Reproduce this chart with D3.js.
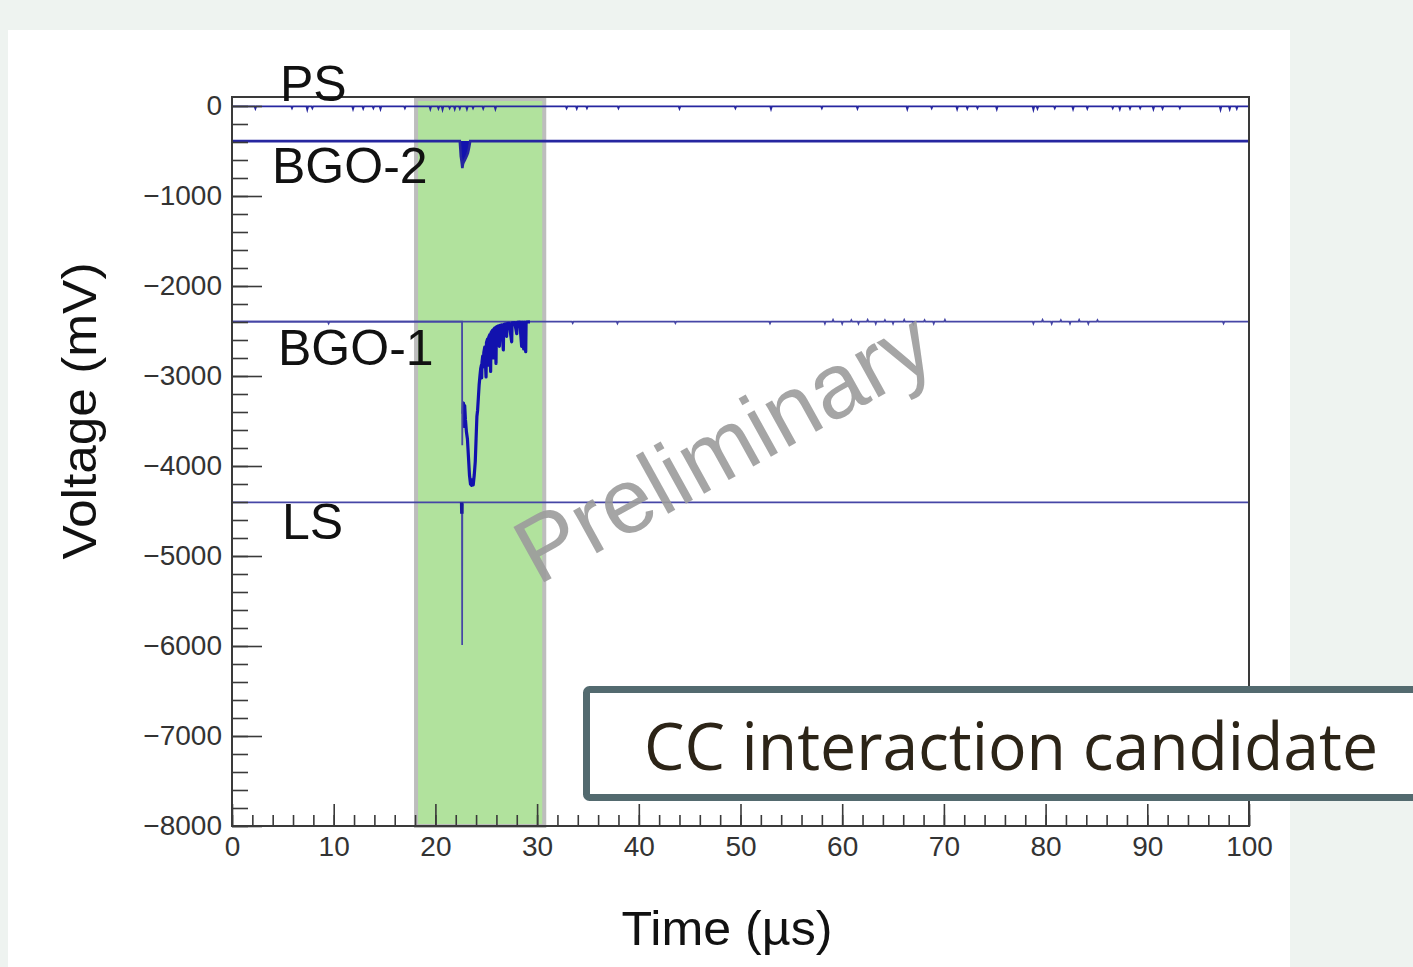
<!DOCTYPE html>
<html>
<head>
<meta charset="utf-8">
<script src="https://cdn.jsdelivr.net/npm/d3@7"></script>
<style>
  html, body { margin: 0; padding: 0; background: #eef3f0; }
  svg { display: block; }
</style>
</head>
<body>
<div id="chart"></div>
<script>
/*
    Data
*/
const timeDomain = [0, 100];          // µs
const voltDomain = [-8000, 100];      // mV
const xTickValues = [0, 10, 20, 30, 40, 50, 60, 70, 80, 90, 100];
const yTickValues = [0, -1000, -2000, -3000, -4000, -5000, -6000, -7000, -8000];

const channelNames = ["PS", "BGO-2", "BGO-1", "LS"];
const baselineLevels = [-5, -390, -2395, -4405];

// shaded coincidence window (µs)
const windowRange = [17.9, 30.9];

// PS: flat trace with tiny negative glitches
const psSpikeTimes = [2.3, 5.9, 7.4, 7.9, 11.9, 12.9, 13.9, 14.6, 17.0, 19.5, 20.3, 20.7, 21.4, 21.9,
    22.4, 23.1, 23.7, 24.7, 25.9, 32.9, 33.9, 34.9, 38.0, 44.0, 49.5, 53.0, 58.0, 61.5, 66.4, 68.8,
    71.3, 72.3, 73.3, 75.2, 78.8, 79.2, 80.9, 82.7, 84.1, 86.6, 87.3, 88.3, 89.3, 90.6, 91.5, 93.2,
    97.2, 98.1, 98.8];
const psSpikeVolts = [-30, -25, -40, -25, -35, -30, -25, -35, -25, -35, -30, -40, -25, -35,
    -30, -35, -25, -30, -35, -25, -30, -25, -25, -30, -25, -35, -25, -30, -35, -25,
    -35, -30, -25, -35, -40, -30, -25, -35, -30, -25, -35, -30, -25, -35, -30, -25,
    -40, -35, -30];

// BGO-2 pulse
const bgo2Trace = [[0, -390], [22.40, -390], [22.45, -470], [22.50, -560], [22.58, -620], [22.65, -690],
    [22.72, -640], [22.80, -620], [22.90, -600], [23.00, -575], [23.10, -550], [23.20, -520],
    [23.30, -470], [23.38, -420], [23.42, -390], [100, -390]];

// BGO-1 pulse with its afterpulse glitches
const bgo1Trace = [[0, -2395], [22.62, -2395], [22.64, -3770], [22.67, -3280], [22.72, -3420], [22.76, -3300],
    [22.82, -3560], [22.88, -3330], [22.95, -3480], [23.05, -3620], [23.15, -3700], [23.25, -3900],
    [23.35, -4100], [23.45, -4200], [23.55, -4215], [23.65, -4150], [23.72, -4210], [23.82, -4100],
    [23.92, -3950], [24.00, -3700], [24.08, -3450], [24.15, -3380], [24.22, -3250], [24.30, -3100],
    [24.38, -3000], [24.45, -2920], [24.52, -2880], [24.55, -3020], [24.58, -2850], [24.65, -2780],
    [24.72, -2900], [24.76, -2740], [24.85, -2680], [24.98, -3010], [25.02, -2630], [25.12, -2590],
    [25.20, -2880], [25.24, -2570], [25.35, -2540], [25.43, -2950], [25.47, -2520], [25.60, -2495],
    [25.70, -2800], [25.74, -2480], [25.85, -2465], [25.96, -2860], [26.00, -2455], [26.15, -2445],
    [26.29, -2670], [26.33, -2440], [26.50, -2432], [26.68, -2710], [26.72, -2428], [26.85, -2422],
    [27.00, -2560], [27.04, -2418], [27.25, -2414], [27.50, -2620], [27.54, -2410], [27.80, -2408],
    [28.00, -2530], [28.04, -2405], [28.30, -2402], [28.48, -2670], [28.52, -2402], [28.68, -2700],
    [28.72, -2400], [28.88, -2730], [28.92, -2400], [29.30, -2398], [100, -2395]];
const bgo1NoiseTimes = [9.5, 33.5, 37.9, 43.6, 52.9, 58.3, 59.1, 60.0, 60.9, 61.6, 62.5, 63.3, 64.2,
    65.0, 66.1, 67.0, 68.1, 69.0, 70.1, 78.8, 79.7, 80.6, 81.5, 82.4, 83.3, 84.2, 85.1, 97.5];
const bgo1NoiseVolts = [-2415, -2412, -2415, -2412, -2415, -2418, -2375, -2420, -2378, -2418, -2375,
    -2420, -2378, -2418, -2375, -2420, -2378, -2418, -2375, -2418, -2375, -2420, -2378, -2418, -2375,
    -2420, -2378, -2415];

// LS pulse
const lsTrace = [[0, -4405], [22.58, -4405], [22.60, -4530], [22.61, -4420], [22.63, -5990], [22.65, -4430],
    [22.68, -4405], [100, -4405]];

/*
    Layout
*/
const W = 1413, H = 967;
const plot = { left: 232, right: 1249, top: 97, bottom: 826 };

const svg = d3.select("#chart").append("svg")
    .attr("width", W)
    .attr("height", H);

svg.append("rect").attr("width", W).attr("height", H).attr("fill", "#eef3f0");
svg.append("rect").attr("x", 8).attr("y", 30).attr("width", 1282).attr("height", H - 30).attr("fill", "#ffffff");

const x = d3.scaleLinear().domain(timeDomain).range([plot.left, plot.right]);
const y = d3.scaleLinear().domain(voltDomain).range([plot.bottom, plot.top]);

// Coincidence window
svg.append("rect")
    .attr("x", x(windowRange[0]) + 2)
    .attr("y", plot.top + 2)
    .attr("width", x(windowRange[1]) - x(windowRange[0]) - 4)
    .attr("height", plot.bottom - plot.top - 2)
    .attr("fill", "#b1e29d")
    .attr("stroke", "#bdbdbd")
    .attr("stroke-width", 4);

/*
    Traces
*/
const line = d3.line().x(d => x(d[0])).y(d => y(d[1]));
const traceColor = "#2626a0";
const pulseColor = "#1212ae";
const thinColor = "#4646a6";

function spikeTrace(base, times, volts) {
    const pts = [[timeDomain[0], base]];
    times.forEach((t, i) => {
        pts.push([t - 0.08, base], [t, volts[i]], [t + 0.08, base]);
    });
    pts.push([timeDomain[1], base]);
    return pts;
}

// PS
svg.append("path")
    .attr("d", line(spikeTrace(baselineLevels[0], psSpikeTimes, psSpikeVolts)))
    .attr("fill", "none").attr("stroke", traceColor).attr("stroke-width", 1.8);

// BGO-2
svg.append("path")
    .attr("d", d3.area().x(d => x(d[0])).y0(y(baselineLevels[1])).y1(d => y(d[1]))(bgo2Trace))
    .attr("fill", pulseColor);
svg.append("path")
    .attr("d", line(bgo2Trace))
    .attr("fill", "none").attr("stroke", traceColor).attr("stroke-width", 2.6);

// BGO-1
svg.append("path")
    .attr("d", line(spikeTrace(baselineLevels[2], bgo1NoiseTimes, bgo1NoiseVolts)))
    .attr("fill", "none").attr("stroke", thinColor).attr("stroke-width", 1.7);
svg.append("path")
    .attr("d", line(bgo1Trace.filter(d => d[0] > 22.7 && d[0] < 30)))
    .attr("fill", "none").attr("stroke", pulseColor).attr("stroke-width", 3.2)
    .attr("stroke-linejoin", "round");
svg.append("path")
    .attr("d", line(bgo1Trace.filter(d => d[0] < 22.7)))
    .attr("fill", "none").attr("stroke", thinColor).attr("stroke-width", 1.8);

// LS
svg.append("path")
    .attr("d", line(lsTrace))
    .attr("fill", "none").attr("stroke", thinColor).attr("stroke-width", 1.7);
svg.append("path")
    .attr("d", line(lsTrace.filter(d => d[0] > 22.5 && d[0] < 22.62)))
    .attr("fill", "none").attr("stroke", "#1a1a9c").attr("stroke-width", 3.5);

/*
    Frame & axes
*/
svg.append("rect")
    .attr("x", plot.left).attr("y", plot.top)
    .attr("width", plot.right - plot.left).attr("height", plot.bottom - plot.top)
    .attr("fill", "none").attr("stroke", "#3a3a3a").attr("stroke-width", 2);

const tickFont = "'Liberation Sans', Arial, Helvetica, sans-serif";

svg.append("g").attr("transform", `translate(${plot.left},0)`)
    .call(d3.axisLeft(y).tickValues(yTickValues).tickSize(-30).tickPadding(10).tickFormat(d3.format("d")));
svg.append("g").attr("transform", `translate(${plot.left},0)`)
    .call(d3.axisLeft(y).tickValues(d3.range(0, -8001, -200)).tickSize(-16).tickFormat(""));

svg.append("g").attr("transform", `translate(0,${plot.bottom})`)
    .call(d3.axisBottom(x).tickValues(xTickValues).tickSize(-22).tickPadding(10).tickFormat(d3.format("d")));
svg.append("g").attr("transform", `translate(0,${plot.bottom})`)
    .call(d3.axisBottom(x).tickValues(d3.range(0, 101, 2)).tickSize(-11).tickFormat(""));

svg.selectAll(".domain").remove();
svg.selectAll(".tick line").attr("stroke", "#3a3a3a").attr("stroke-width", 1.6);
svg.selectAll(".tick text")
    .attr("fill", "#333")
    .style("font-family", tickFont)
    .style("font-size", "28px");

// Axis titles
svg.append("text")
    .attr("transform", "translate(96,411) rotate(-90)")
    .attr("text-anchor", "middle")
    .attr("textLength", 297)
    .attr("lengthAdjust", "spacingAndGlyphs")
    .style("font-family", tickFont)
    .style("font-size", "48px")
    .attr("fill", "#111")
    .text("Voltage (mV)");

svg.append("text")
    .attr("x", 727).attr("y", 945)
    .attr("text-anchor", "middle")
    .attr("textLength", 211)
    .attr("lengthAdjust", "spacingAndGlyphs")
    .style("font-family", tickFont)
    .style("font-size", "48px")
    .attr("fill", "#111")
    .text("Time (µs)");

// Channel labels
const labelX = [280, 272, 278, 282];
const labelDy = [-5, 42, 43, 37];
channelNames.forEach((name, i) => {
    svg.append("text")
        .attr("x", labelX[i])
        .attr("y", y(baselineLevels[i]) + labelDy[i])
        .style("font-family", tickFont)
        .style("font-size", "50px")
        .attr("fill", "#111")
        .text(name);
});

// Watermark
svg.append("text")
    .attr("transform", "translate(724,448) rotate(-29)")
    .attr("text-anchor", "middle")
    .attr("dy", "0.33em")
    .style("font-family", tickFont)
    .style("font-size", "92px")
    .attr("fill", "#9c9c9c")
    .attr("opacity", 0.9)
    .text("Preliminary");

// Annotation box
svg.append("rect")
    .attr("x", 586.5).attr("y", 689.5)
    .attr("width", 900).attr("height", 108)
    .attr("rx", 3)
    .attr("fill", "#ffffff")
    .attr("stroke", "#536a6f")
    .attr("stroke-width", 7);
svg.append("text")
    .attr("x", 644).attr("y", 770)
    .attr("textLength", 734)
    .attr("lengthAdjust", "spacingAndGlyphs")
    .style("font-family", "'Open Sans', 'Noto Sans', sans-serif")
    .style("font-size", "65px")
    .attr("fill", "#2c2417")
    .text("CC interaction candidate");
</script>
</body>
</html>
